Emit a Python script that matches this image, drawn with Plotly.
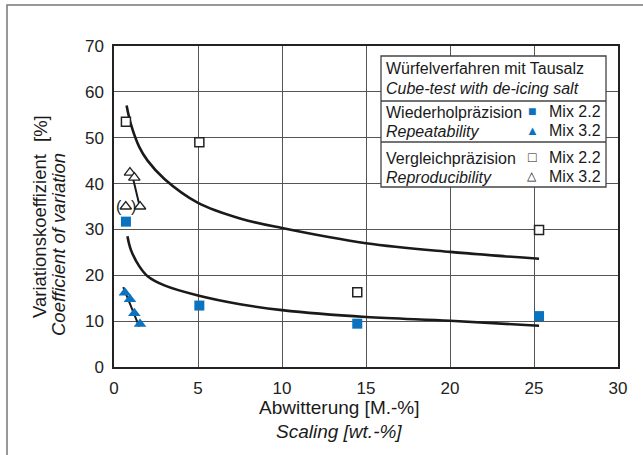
import plotly.graph_objects as go

# ---------------- data ----------------
rep22_x = [0.71, 5.08, 14.48, 25.3]
rep22_y = [31.7, 13.4, 9.45, 11.1]
rep32_x = [0.65, 0.95, 1.21, 1.55]
rep32_y = [16.2, 14.8, 11.7, 9.4]
repro22_x = [0.71, 5.08, 14.48, 25.3]
repro22_y = [53.5, 49.0, 16.3, 29.9]
repro32_x = [0.95, 1.21, 1.55]
repro32_y = [42.4, 41.3, 35.0]
repro32_paren_x = [0.70]
repro32_paren_y = [35.0]

upper_curve_x = [0.75, 1.0, 1.5, 2.0, 3.0, 5.0, 7.5, 10.0, 15.0, 20.0, 25.3]
upper_curve_y = [57.0, 53.0, 48.0, 45.0, 41.0, 35.8, 32.4, 30.3, 27.0, 25.1, 23.6]
lower_curve_x = [0.8, 1.0, 1.5, 2.0, 3.0, 5.0, 7.5, 10.0, 15.0, 20.0, 25.3]
lower_curve_y = [28.5, 25.6, 22.0, 19.8, 17.8, 15.6, 13.7, 12.4, 10.9, 10.1, 9.0]
rep32_line_x = [0.55, 1.5]
rep32_line_y = [17.4, 8.8]
repro32_line_x = [1.11, 1.51]
repro32_line_y = [41.5, 35.3]

x_ticks = [0, 5, 10, 15, 20, 25, 30]
y_ticks = [0, 10, 20, 30, 40, 50, 60, 70]

BLUE = "#0b72bf"
FONT = "Liberation Sans"

# plot area in pixels (for placing decorations)
L, R, T, B = 114, 618, 46, 367
W, H = 643, 455


def px(xpix):
    return (xpix - L) / (R - L)


def py(ypix):
    return (B - ypix) / (B - T)


fig = go.Figure()

line_style = dict(color="#1a1a1a", width=2.6)
fig.add_trace(go.Scatter(x=upper_curve_x, y=upper_curve_y, mode="lines",
                         line=dict(**line_style, shape="spline"), hoverinfo="skip"))
fig.add_trace(go.Scatter(x=lower_curve_x, y=lower_curve_y, mode="lines",
                         line=dict(**line_style, shape="spline"), hoverinfo="skip"))
fig.add_trace(go.Scatter(x=rep32_line_x, y=rep32_line_y, mode="lines",
                         line=dict(color="#1a1a1a", width=2), hoverinfo="skip"))
fig.add_trace(go.Scatter(x=repro32_line_x, y=repro32_line_y, mode="lines",
                         line=dict(color="#1a1a1a", width=2), hoverinfo="skip"))

fig.add_trace(go.Scatter(x=repro22_x, y=repro22_y, mode="markers", name="Vergleich Mix 2.2",
                         marker=dict(symbol="square", size=9, color="white",
                                     line=dict(color="#222", width=1.5))))
fig.add_trace(go.Scatter(x=repro32_x + repro32_paren_x, y=repro32_y + repro32_paren_y,
                         mode="markers", name="Vergleich Mix 3.2",
                         marker=dict(symbol="triangle-up", size=10, color="white",
                                     line=dict(color="#222", width=1.3))))
fig.add_trace(go.Scatter(x=rep22_x, y=rep22_y, mode="markers", name="Wiederhol Mix 2.2",
                         marker=dict(symbol="square", size=10, color=BLUE,
                                     line=dict(width=0))))
fig.add_trace(go.Scatter(x=rep32_x, y=rep32_y, mode="markers", name="Wiederhol Mix 3.2",
                         marker=dict(symbol="triangle-up", size=11, color=BLUE,
                                     line=dict(width=0))))

shapes = []
# outer frame (partially off-canvas like the reference)
shapes.append(dict(type="rect", xref="paper", yref="paper",
                   x0=px(7), x1=px(W + 10), y0=py(H + 10), y1=py(5),
                   line=dict(color="#777", width=1.5), layer="below"))
# legend box
shapes.append(dict(type="rect", xref="paper", yref="paper",
                   x0=px(381), x1=px(606), y0=py(187), y1=py(56),
                   fillcolor="white", line=dict(color="#444", width=1.3), layer="above"))
shapes.append(dict(type="line", xref="paper", yref="paper",
                   x0=px(381), x1=px(606), y0=py(101), y1=py(101),
                   line=dict(color="#444", width=1.3)))
shapes.append(dict(type="line", xref="paper", yref="paper",
                   x0=px(381), x1=px(606), y0=py(142), y1=py(142),
                   line=dict(color="#444", width=1.3)))

annotations = []


def txt(text, xpix, ypix, size=14, italic=False, color="#1a1a1a", xanchor="left",
        textangle=0):
    annotations.append(dict(
        text=text, x=px(xpix), y=py(ypix), xref="paper", yref="paper",
        xanchor=xanchor, yanchor="middle", showarrow=False, textangle=textangle,
        font=dict(family=FONT, size=size, color=color,
                  style="italic" if italic else "normal")))


LS = 16
txt("Würfelverfahren mit Tausalz", 384, 68, size=LS)
txt("Cube-test with de-icing salt", 384, 88, size=LS, italic=True)
txt("Wiederholpräzision", 384, 112, size=LS)
txt("Repeatability", 384, 131, size=LS, italic=True)
txt("Vergleichpräzision", 384, 158, size=LS)
txt("Reproducibility", 384, 177, size=LS, italic=True)
txt("■", 532, 111, size=14, color=BLUE, xanchor="center")
txt("▲", 532, 130, size=13, color=BLUE, xanchor="center")
txt("□", 532, 157, size=14, color="#222", xanchor="center")
txt("△", 532, 176, size=12, color="#222", xanchor="center")
for yy, lab in [(111, "Mix 2.2"), (130, "Mix 3.2"), (157, "Mix 2.2"), (176, "Mix 3.2")]:
    txt(lab, 547, yy, size=LS)

# parentheses around the bracketed triangle
txt("(", 119, 206, size=16, xanchor="center")
txt(")", 133, 206, size=16, xanchor="center")

# axis titles
txt("Abwitterung [M.-%]", 339, 407, size=19, xanchor="center")
txt("Scaling [wt.-%]", 339, 431, size=19, italic=True, xanchor="center")
txt("Variationskoeffizient", 39, 236, size=18.5, xanchor="center", textangle=-90)
txt("[%]", 40, 129, size=18.5, xanchor="center", textangle=-90)
txt("Coefficient of variation", 58, 245, size=18.5, italic=True, xanchor="center",
    textangle=-90)

axis_common = dict(showgrid=True, gridcolor="#555", gridwidth=1.3, zeroline=False,
                   showline=True, linecolor="#222", linewidth=1.5, mirror=True,
                   ticks="", tickfont=dict(family=FONT, size=17, color="#222"),
                   ticklabelstandoff=5)

fig.update_layout(
    width=W, height=H,
    margin=dict(l=L, r=W - R, t=T, b=H - B),
    paper_bgcolor="white", plot_bgcolor="white",
    showlegend=False,
    xaxis=dict(range=[0, 30], tickvals=x_ticks, **axis_common),
    yaxis=dict(range=[0, 70], tickvals=y_ticks, **axis_common),
    shapes=shapes,
    annotations=annotations,
)

fig.write_html("out.html", config={"displayModeBar": False},
               post_script="document.body.style.margin='0';document.body.style.overflow='hidden';")
